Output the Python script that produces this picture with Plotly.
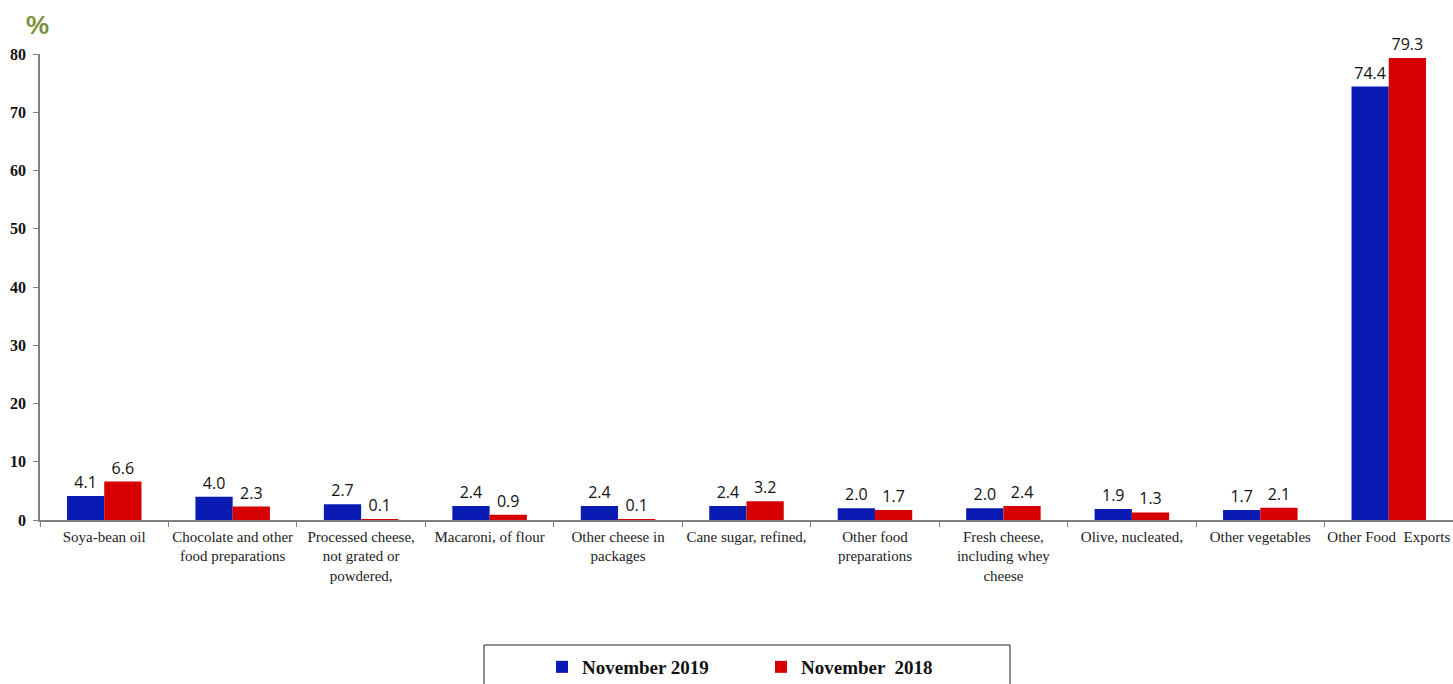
import plotly.graph_objects as go

categories = [
    "Soya-bean oil",
    "Chocolate and other<br>food preparations",
    "Processed cheese,<br>not grated or<br>powdered,",
    "Macaroni, of flour",
    "Other cheese in<br>packages",
    "Cane sugar, refined,",
    "Other food<br>preparations",
    "Fresh cheese,<br>including whey<br>cheese",
    "Olive, nucleated,",
    "Other vegetables",
    "Other Food  Exports",
]
nov_2019 = [4.1, 4.0, 2.7, 2.4, 2.4, 2.4, 2.0, 2.0, 1.9, 1.7, 74.4]
nov_2018 = [6.6, 2.3, 0.1, 0.9, 0.1, 3.2, 1.7, 2.4, 1.3, 2.1, 79.3]
y_ticks = [0, 10, 20, 30, 40, 50, 60, 70, 80]

W, H = 1453, 684
ML, MR, MT, MB = 40, 0, 54, 684 - 520
pw = W - ML - MR
ph = H - MT - MB

def px_x(x):
    return (x - ML) / pw

def px_y(y):
    return (H - MB - y) / ph

label_font = dict(family="Open Sans, Noto Sans, sans-serif", size=16, color="#111111")

fig = go.Figure()
fig.add_trace(go.Bar(
    name="<b>November 2019</b>", x=categories, y=nov_2019,
    marker=dict(color="#0a1bb4", line=dict(width=0)),
    text=nov_2019, texttemplate="%{y:.1f}", textposition="outside",
    textfont=label_font, cliponaxis=False,
))
fig.add_trace(go.Bar(
    name="<b>November  2018</b>", x=categories, y=nov_2018,
    marker=dict(color="#d60000", line=dict(width=0)),
    text=nov_2018, texttemplate="%{y:.1f}", textposition="outside",
    textfont=label_font, cliponaxis=False,
))

fig.update_layout(
    width=W, height=H,
    margin=dict(l=ML, r=MR, t=MT, b=MB, autoexpand=False),
    paper_bgcolor="white", plot_bgcolor="white",
    barmode="group", bargap=0.42, bargroupgap=0,
    showlegend=True,
    legend=dict(
        orientation="h", x=px_x(542), xanchor="left", y=px_y(648), yanchor="top",
        font=dict(family="Liberation Serif, Times New Roman, serif", size=19, color="#111111"),
        entrywidth=174, entrywidthmode="pixels",
        bgcolor="rgba(0,0,0,0)", borderwidth=0,
    ),
)
fig.update_xaxes(
    type="category", showline=True, linecolor="#808080", linewidth=1.5,
    ticks="outside", tickson="boundaries", ticklen=5, tickcolor="#808080",
    ticklabelstandoff=2,
    tickfont=dict(family="Liberation Serif, Times New Roman, serif", size=15, color="#222222"),
    showgrid=False, tickangle=0,
)
fig.update_yaxes(
    range=[0, 80], tickvals=y_ticks, showline=True, linecolor="#808080", linewidth=1.5,
    ticks="outside", ticklen=5, tickcolor="#808080", showgrid=False, zeroline=False,
    ticklabelstandoff=4,
    tickfont=dict(family="Liberation Serif, Times New Roman, serif", size=16, color="#111111", weight="bold"),
)
# legend frame
fig.add_shape(type="rect", xref="paper", yref="paper",
              x0=px_x(484), x1=px_x(1010), y0=px_y(645), y1=px_y(700),
              line=dict(color="#222222", width=1), fillcolor="rgba(0,0,0,0)", layer="above")
# "%" unit title
fig.add_annotation(
    text="<b>%</b>", xref="paper", yref="paper", x=px_x(37), y=px_y(25),
    xanchor="center", yanchor="middle", showarrow=False,
    font=dict(family="Liberation Sans, Arial, sans-serif", size=26, color="#77933c"),
)

fig.write_html(
    "out.html",
    config={"displayModeBar": False},
    post_script="document.body.style.margin='0';document.body.style.overflow='hidden';",
)
